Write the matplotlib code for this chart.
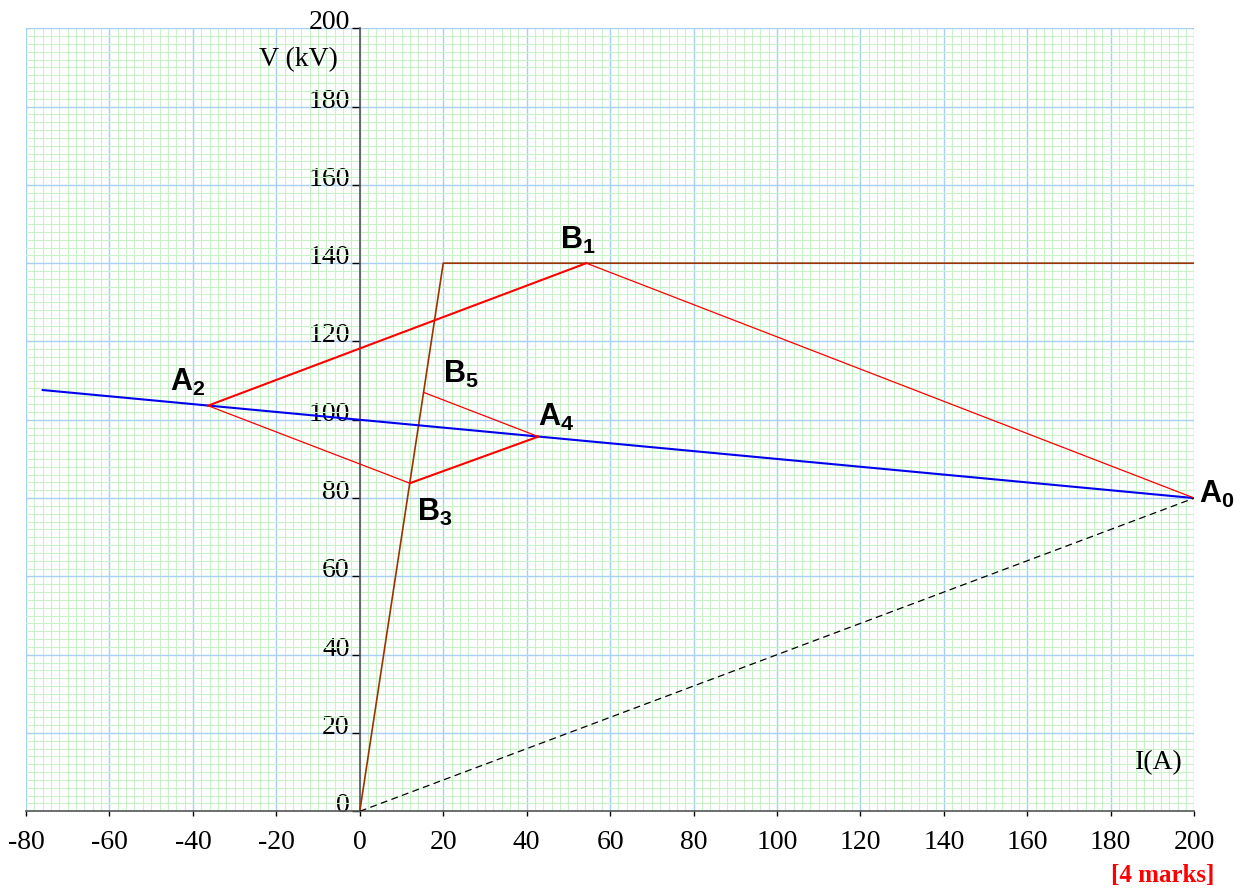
import matplotlib
matplotlib.use("Agg")
import matplotlib.pyplot as plt
from matplotlib.ticker import MultipleLocator
import numpy as np

matplotlib.rcParams['font.family'] = 'Liberation Serif'
matplotlib.rcParams['axes.unicode_minus'] = False
matplotlib.rcParams['mathtext.fontset'] = 'custom'
matplotlib.rcParams['mathtext.bf'] = 'Liberation Sans:bold'
matplotlib.rcParams['mathtext.rm'] = 'Liberation Sans:bold'

# source characteristic (brown)
src_x = [0, 20, 200]
src_y = [0, 140, 140]
# load line (blue)
load_x = [-76, 200]
load_y = [107.6, 80]
# dashed line
dash_x = [0, 200]
dash_y = [0, 80]
# lattice points A0 -> B1 -> A2 -> B3 -> A4 -> B5
pt_names = ["A_0", "B_1", "A_2", "B_3", "A_4", "B_5"]
pt_x = [200, 54.3, -36.4, 12.0, 42.8, 15.3]
pt_y = [80, 140, 103.6, 83.8, 95.7, 107.0]
seg_lw = [0.9, 1.5, 0.9, 1.5, 0.9]
# label positions
lab_x = [205.4, 52.3, -41.3, 18.0, 47.0, 24.2]
lab_y = [81.2, 146.1, 109.9, 76.7, 100.8, 111.9]

xticks = list(range(-80, 201, 20))
yticks = list(range(0, 201, 20))


def main():
    fig = plt.figure(figsize=(12.44, 8.95), dpi=100)
    ax = fig.add_axes([0.0209, 0.0924, 0.9391, 0.8749])

    ax.set_xlim(-80, 200)
    ax.set_ylim(0, 200)

    """
    Grid
    """
    ax.xaxis.set_minor_locator(MultipleLocator(2))
    ax.yaxis.set_minor_locator(MultipleLocator(2))
    ax.grid(True, which='minor', color='#c8f2c8', linewidth=0.8, zorder=0)
    ax.grid(True, which='major', color='#a8d0f4', linewidth=1.0, zorder=0)
    ax.set_axisbelow(True)

    """
    Axes
    """
    for s in ['top', 'right']:
        ax.spines[s].set_visible(False)
    ax.spines['left'].set_position(('data', 0))
    ax.spines['left'].set_color('#555555')
    ax.spines['left'].set_linewidth(1.2)
    ax.spines['bottom'].set_color('#555555')
    ax.spines['bottom'].set_linewidth(1.2)

    ax.set_xticks(xticks)
    ax.set_xticklabels([str(v) for v in xticks])
    ax.set_yticks(yticks)
    ax.set_yticklabels([str(v) for v in yticks])
    ax.tick_params(which='minor', length=0)
    ax.tick_params(axis='x', which='major', direction='out', length=3.6,
                   width=1.0, labelsize=20, pad=9)
    ax.tick_params(axis='y', which='major', direction='out', length=5.8,
                   width=1.0, labelsize=20, pad=1.5)
    for lab in ax.get_yticklabels():
        lab.set_verticalalignment('baseline')

    """
    Data part
    """
    ax.plot(src_x, src_y, color='#993300', linewidth=1.2, zorder=3)
    ax.plot(load_x, load_y, color='#0000ee', linewidth=1.5, zorder=3)
    ax.plot(dash_x, dash_y, color='k', linewidth=0.9, dashes=(5.5, 3.5), zorder=3)
    for i in range(len(pt_x) - 1):
        ax.plot(pt_x[i:i + 2], pt_y[i:i + 2], color='#ff0000',
                linewidth=seg_lw[i], zorder=4)

    for n, x, y in zip(pt_names, lab_x, lab_y):
        ax.text(x, y, r'$\mathbf{%s}$' % n, fontsize=22, ha='center', va='center')

    ax.text(-5.3, 192.2, 'V (kV)', fontsize=20, ha='right', va='center')
    ax.text(197.3, 12.6, 'I(A)', fontsize=20, ha='right', va='center')
    fig.text(1163 / 1244, 1 - 876 / 895, '[4 marks]', color='#ff0000',
             fontsize=18, fontweight='bold', ha='center', va='center')

    fig.savefig('out.png', dpi=100)
    plt.close(fig)


if __name__ == '__main__':
    main()
